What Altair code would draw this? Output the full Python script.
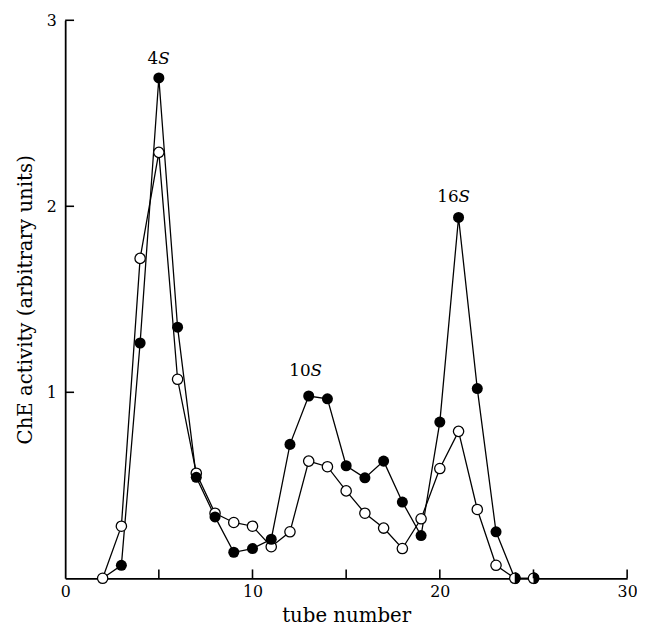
import altair as alt
import pandas as pd

# ---- data ----
tubes = list(range(2, 26))
open_vals = [0.0, 0.28, 1.72, 2.29, 1.07, 0.565, 0.35, 0.30, 0.28, 0.17, 0.25, 0.63,
             0.60, 0.47, 0.35, 0.27, 0.16, 0.32, 0.59, 0.79, 0.37, 0.07, 0.0, 0.0]
filled_vals = [0.0, 0.07, 1.265, 2.69, 1.35, 0.543, 0.33, 0.14, 0.16, 0.21, 0.72, 0.98,
               0.965, 0.605, 0.54, 0.63, 0.41, 0.23, 0.84, 1.94, 1.02, 0.25, 0.0, 0.0]
x_tick_values = [5, 10, 15, 20, 25, 30]
x_label_values = [0, 10, 20, 30]
y_tick_values = [1, 2, 3]
peak_numbers = ["4", "10", "16"]
peak_tubes = [4.97, 13.1, 21.0]
peak_heights = [2.763, 1.086, 2.024]

W, H = 570, 566
SERIF = "DejaVu Serif"
TICK_LEN = 9  # px

open_df = pd.DataFrame({"tube": tubes, "v": open_vals})
filled_df = pd.DataFrame({"tube": tubes, "v": filled_vals})
xt_df = pd.DataFrame({"tube": x_tick_values, "v": [0] * len(x_tick_values)})
yt_df = pd.DataFrame({"v": y_tick_values, "tube": [0] * len(y_tick_values)})
lab_df = pd.DataFrame({"tube": peak_tubes, "v": peak_heights, "num": peak_numbers,
                       "sym": ["S"] * 3})

xs = alt.Scale(domain=[0, 30], nice=False, zero=False)
ys = alt.Scale(domain=[0, 3], nice=False, zero=False)

x_axis = alt.Axis(values=x_label_values, ticks=False, grid=False, domainColor="black",
                  domainWidth=1.8, labelFont=SERIF, labelFontSize=16, labelColor="black",
                  labelPadding=5, labelFlush=False,
                  title="tube number", titleFont=SERIF, titleFontSize=20,
                  titleFontWeight="normal", titleColor="black", titlePadding=7)
y_axis = alt.Axis(values=y_tick_values, ticks=False, grid=False, domainColor="black",
                  domainWidth=1.8, labelFont=SERIF, labelFontSize=16, labelColor="black",
                  labelPadding=9, labelFlush=False,
                  title="ChE activity (arbitrary units)", titleFont=SERIF, titleFontSize=20,
                  titleFontWeight="normal", titleColor="black", titlePadding=11)

X = alt.X("tube:Q", scale=xs, axis=x_axis)
Y = alt.Y("v:Q", scale=ys, axis=y_axis)

open_line = alt.Chart(open_df).mark_line(color="black", strokeWidth=1.3).encode(x=X, y=Y)
filled_line = alt.Chart(filled_df).mark_line(color="black", strokeWidth=1.3).encode(x=X, y=Y)

open_pts = alt.Chart(open_df).mark_point(
    shape="circle", filled=True, fill="white", stroke="black", strokeWidth=1.3,
    size=110, opacity=1).encode(x=X, y=Y)
filled_pts = alt.Chart(filled_df).transform_filter("datum.v > 0").mark_point(
    shape="circle", filled=True, color="black", size=125, opacity=1).encode(x=X, y=Y)
half_pts = alt.Chart(filled_df).transform_filter("datum.v == 0 && datum.tube > 20").mark_point(
    shape="M0,-1 A1,1 0 0 1 0,1 Z", filled=True, color="black", size=145,
    opacity=1).encode(x=X, y=Y)

# inward ticks drawn as line-shaped symbols sitting on the axes
tick_size = (2 * TICK_LEN) ** 2
x_ticks = alt.Chart(xt_df).mark_point(
    shape="M0,0 L0,-1", filled=False, color="black", strokeWidth=1.6,
    size=tick_size, opacity=1).encode(x=X, y=Y)
y_ticks = alt.Chart(yt_df).mark_point(
    shape="M0,0 L1,0", filled=False, color="black", strokeWidth=1.6,
    size=tick_size, opacity=1).encode(x=X, y=Y)

num_text = alt.Chart(lab_df).mark_text(
    font=SERIF, fontSize=17, align="right", baseline="alphabetic", color="black").encode(
    x=X, y=Y, text="num:N")
sym_text = alt.Chart(lab_df).mark_text(
    font=SERIF, fontSize=17, fontStyle="italic", align="left", baseline="alphabetic",
    color="black").encode(x=X, y=Y, text="sym:N")

chart = alt.layer(
    open_line, filled_line, open_pts, filled_pts, half_pts, x_ticks, y_ticks,
    num_text, sym_text
).properties(
    width=W, height=H,
    autosize=alt.AutoSizeParams(type="none"),
    padding={"left": 58, "top": 8, "right": 10, "bottom": 50},
    background="white",
).configure_view(stroke=None)

chart.save("out.html", embed_options={"renderer": "svg", "actions": False})
